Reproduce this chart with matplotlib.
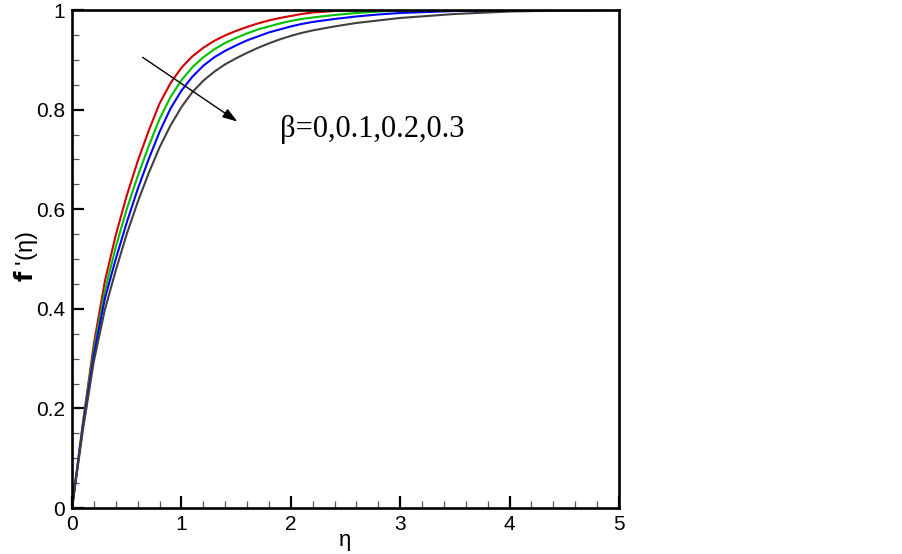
import matplotlib
matplotlib.use("Agg")
import matplotlib.pyplot as plt
from matplotlib.ticker import MultipleLocator

eta = [0, 0.1, 0.2, 0.3, 0.4, 0.5, 0.6, 0.7, 0.8, 0.9, 1.0, 1.1, 1.2, 1.3, 1.4,
       1.5, 1.6, 1.7, 1.8, 1.9, 2.0, 2.1, 2.2, 2.4, 2.6, 2.8, 3.0, 3.5, 4.0, 4.5, 5.0]
f_beta0 = [0, 0.172, 0.33, 0.455, 0.548, 0.627, 0.696, 0.757, 0.812, 0.853, 0.884,
           0.907, 0.924, 0.938, 0.949, 0.958, 0.966, 0.973, 0.979, 0.984, 0.988,
           0.992, 0.995, 0.998, 0.9995, 1.0, 1.0, 1.0, 1.0, 1.0, 1.0]
f_beta1 = [0, 0.168, 0.318, 0.435, 0.524, 0.600, 0.666, 0.726, 0.781, 0.825, 0.859,
           0.885, 0.905, 0.921, 0.934, 0.944, 0.953, 0.961, 0.967, 0.973, 0.978,
           0.982, 0.985, 0.990, 0.994, 0.997, 0.999, 1.0, 1.0, 1.0, 1.0]
f_beta2 = [0, 0.164, 0.308, 0.420, 0.500, 0.573, 0.640, 0.700, 0.755, 0.802, 0.838,
           0.866, 0.888, 0.905, 0.918, 0.929, 0.939, 0.947, 0.955, 0.961, 0.967,
           0.972, 0.976, 0.982, 0.987, 0.991, 0.994, 0.998, 1.0, 1.0, 1.0]
f_beta3 = [0, 0.157, 0.295, 0.398, 0.477, 0.550, 0.614, 0.672, 0.724, 0.768, 0.805,
           0.835, 0.858, 0.876, 0.891, 0.903, 0.914, 0.924, 0.933, 0.941, 0.948,
           0.954, 0.959, 0.967, 0.974, 0.979, 0.984, 0.992, 0.997, 0.999, 1.0]
series = [f_beta0, f_beta1, f_beta2, f_beta3]
colors = ["#d40000", "#00c000", "#0000ff", "#404040"]

xticks = [0, 1, 2, 3, 4, 5]
yticks = [0, 0.2, 0.4, 0.6, 0.8, 1.0]
yticklabels = ["0", "0.2", "0.4", "0.6", "0.8", "1"]
annot_text = "β=0,0.1,0.2,0.3"

plt.rcParams['font.family'] = ['Liberation Sans', 'DejaVu Sans']

fig = plt.figure(figsize=(9.03, 5.54), dpi=100)
ax = fig.add_axes([72/903, 46/554, 547/903, 498/554])

for ys, c in zip(series, colors):
    ax.plot(eta, ys, color=c, lw=1.5, solid_joinstyle='round', zorder=3)

ax.set_xlim(0, 5)
ax.set_ylim(0, 1)
ax.set_xticks(xticks)
ax.set_xticklabels([str(t) for t in xticks])
ax.set_yticks(yticks)
ax.set_yticklabels(yticklabels)
ax.xaxis.set_minor_locator(MultipleLocator(0.2))
ax.yaxis.set_minor_locator(MultipleLocator(0.05))

ax.tick_params(which='major', direction='in', length=8.5, width=1.6,
               labelsize=15, pad=5, top=False, right=False)
ax.tick_params(which='minor', direction='in', length=5, width=0.9,
               color='#555555', top=False, right=False)
for s in ax.spines.values():
    s.set_linewidth(1.9)
    s.set_zorder(4)

ax.set_xlabel("η", fontsize=16)
ax.xaxis.set_label_coords(0.5, -0.045)
ax.set_ylabel(r"$\mathbf{f}$ '(η)", fontsize=17)
ax.yaxis.set_label_coords(-0.058, 0.505)

ax.annotate("", xy=(1.512, 0.776), xytext=(0.646, 0.905),
            arrowprops=dict(arrowstyle="-|>,head_length=0.9,head_width=0.3",
                            color="black", lw=1.0, shrinkA=0, shrinkB=0))
ax.text(1.90, 0.745, annot_text, fontsize=22, family=['Liberation Serif'],
        ha='left', va='baseline')

fig.savefig("out.png", dpi=100)
